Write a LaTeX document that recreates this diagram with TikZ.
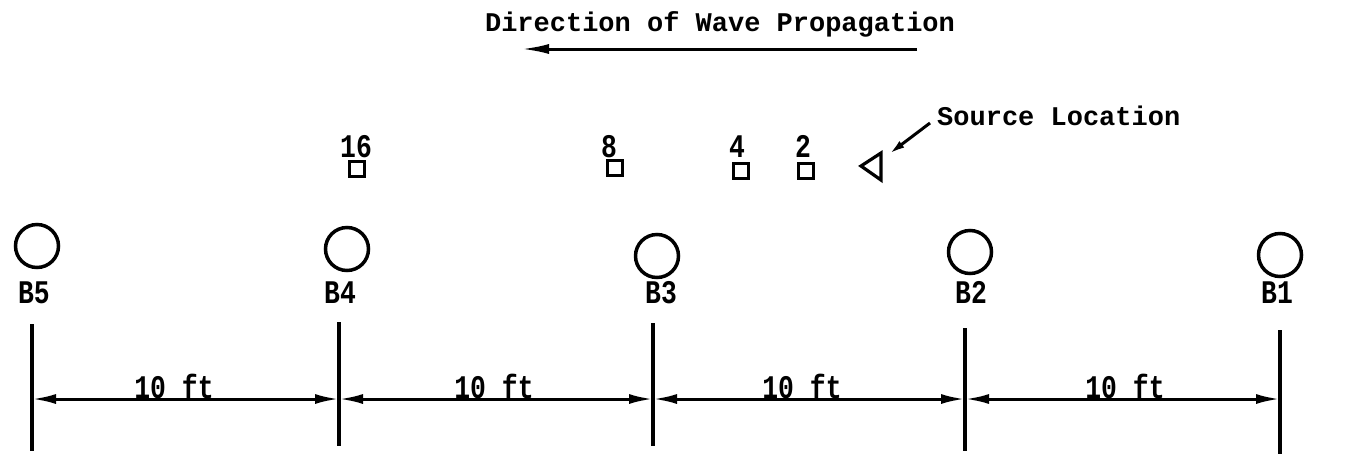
\documentclass[tikz,border=0pt]{standalone}
\usepackage{fontspec}
\newfontfamily\twfont{Liberation Mono}[BoldFont={Liberation Mono Bold}]
\usetikzlibrary{arrows.meta}
\newcommand\narrowtext[1]{\scalebox{0.8}[1]{#1}}
\begin{document}
\begin{tikzpicture}[x=1pt,y=-1pt,
  titletext/.style={inner sep=0pt, anchor=base, font=\twfont\bfseries\fontsize{27}{30}\selectfont},
  labeltext/.style={inner sep=0pt, anchor=base, font=\twfont\bfseries\fontsize{33}{36}\selectfont},
  boring/.style={circle, draw, line width=3.5pt, minimum size=43pt, inner sep=0pt},
  gauge/.style={rectangle, draw, line width=3.5pt, minimum size=15pt, inner sep=0pt},
  tickline/.style={line width=3.2pt},
  dimline/.style={line width=3pt, {Latex[length=24pt,width=10pt]}-{Latex[length=24pt,width=10pt]}},
  dirarrow/.style={line width=3pt, -{Latex[length=28pt,width=10pt]}},
  leader/.style={line width=3pt, -{Latex[length=16pt,width=8pt]}}
]
\useasboundingbox (0,0) rectangle (1362,456);

% title and direction arrow
\node[titletext] (title) at (720,31) {Direction of Wave Propagation};
\coordinate (dirtail) at (917,49);
\coordinate (dirtip) at (521,49);
\draw[dirarrow] (dirtail) -- (dirtip);

% source
\node[titletext, anchor=base west] (src) at (937,125) {Source Location};
\coordinate (leadstart) at (930,123);
\coordinate (leadtip) at (889,154);
\draw[leader] (leadstart) -- (leadtip);
\draw[line width=3.2pt, line join=miter] (861,166) -- (881,153) -- (881,180) -- cycle;

% gauges
\node[gauge] (g16) at (357,169) {};
\node[gauge] (g8) at (615,168) {};
\node[gauge] (g4) at (741,171) {};
\node[gauge] (g2) at (806,171) {};
\node[labeltext] (l16) at (356,157) {\narrowtext{16}};
\node[labeltext] (l8) at (609,157) {\narrowtext{8}};
\node[labeltext] (l4) at (737,157) {\narrowtext{4}};
\node[labeltext] (l2) at (803,157) {\narrowtext{2}};

% borings
\node[boring] (b5) at (37,246) {};
\node[boring] (b4) at (347,249) {};
\node[boring] (b3) at (657,256) {};
\node[boring] (b2) at (970,252) {};
\node[boring] (b1) at (1280,255) {};
\node[labeltext] (lb5) at (34,303) {\narrowtext{B5}};
\node[labeltext] (lb4) at (340,303) {\narrowtext{B4}};
\node[labeltext] (lb3) at (661,303) {\narrowtext{B3}};
\node[labeltext] (lb2) at (971,303) {\narrowtext{B2}};
\node[labeltext] (lb1) at (1277,303) {\narrowtext{B1}};

% tick lines
\coordinate (t5a) at (32,324);  \coordinate (t5b) at (32,451);
\coordinate (t4a) at (339,322); \coordinate (t4b) at (339,446);
\coordinate (t3a) at (653,323); \coordinate (t3b) at (653,446);
\coordinate (t2a) at (965,328); \coordinate (t2b) at (965,451);
\coordinate (t1a) at (1280,330); \coordinate (t1b) at (1280,454);
\foreach \i in {1,...,5} {\draw[tickline] (t\i a) -- (t\i b);}

% dimension lines
\coordinate (d5) at (32,399);
\coordinate (d4) at (339,399);
\coordinate (d3) at (653,399);
\coordinate (d2) at (965,399);
\coordinate (d1) at (1280,399);
\draw[dimline] (d5) -- (d4);
\draw[dimline] (d4) -- (d3);
\draw[dimline] (d3) -- (d2);
\draw[dimline] (d2) -- (d1);
\node[labeltext] (s54) at (174,398) {\narrowtext{10 ft}};
\node[labeltext] (s43) at (494,398) {\narrowtext{10 ft}};
\node[labeltext] (s32) at (802,398) {\narrowtext{10 ft}};
\node[labeltext] (s21) at (1125,398) {\narrowtext{10 ft}};
\end{tikzpicture}
\end{document}
